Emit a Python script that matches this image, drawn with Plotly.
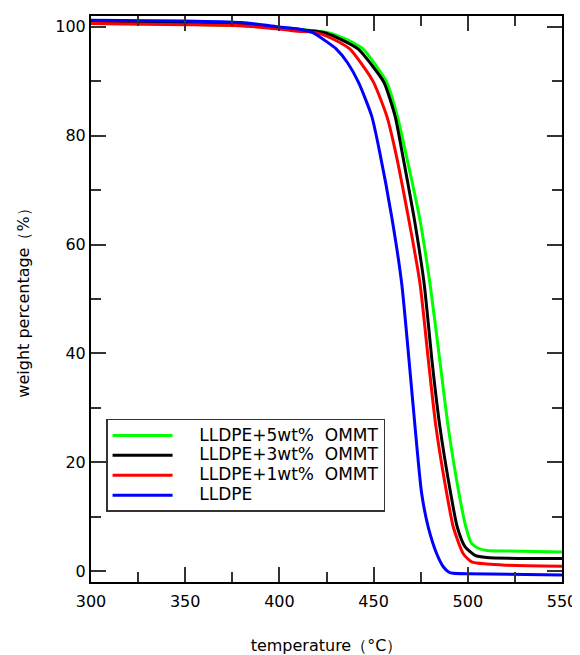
import plotly.graph_objects as go

# LLDPE + 5wt% OMMT (green)
t_5 = [300, 350, 400, 410, 425, 435, 444.5, 451, 457, 462.6, 466.7, 474.3, 479.9, 485.4, 489.6, 495.3, 499, 502, 505.6, 510, 520, 550]
w_5 = [100.6, 100.5, 99.9, 99.6, 99.0, 97.8, 95.9, 93.0, 89.8, 83.6, 77.4, 65.1, 52.9, 38.0, 26.5, 14.3, 8.1, 5.1, 4.2, 3.8, 3.7, 3.5]

# LLDPE + 3wt% OMMT (black)
t_3 = [300, 350, 380, 400, 410, 423, 432, 441.9, 449, 455.5, 461.4, 464.9, 471.4, 476.8, 481.2, 485.2, 490.9, 494.4, 498.5, 503.8, 510, 550]
w_3 = [100.8, 100.6, 100.3, 99.8, 99.5, 99.0, 97.8, 95.9, 93.0, 89.8, 83.6, 77.4, 65.1, 52.9, 38.0, 26.5, 14.3, 8.1, 4.5, 2.9, 2.5, 2.3]

# LLDPE + 1wt% OMMT (red)
t_1 = [300, 350, 380, 400, 410, 420, 430, 437.5, 444, 450, 457, 461.4, 468.4, 474.6, 479.3, 483.1, 488.8, 492.3, 497.6, 502, 510, 520, 550]
w_1 = [100.6, 100.4, 100.2, 99.6, 99.2, 98.9, 97.5, 95.9, 93.0, 89.8, 83.6, 77.4, 65.1, 52.9, 38.0, 26.5, 14.3, 8.1, 3.2, 1.7, 1.3, 1.1, 0.9]

# LLDPE (blue)
t_0 = [300, 350, 380, 400, 410, 418, 425, 430, 436, 442, 449, 453, 459.6, 464.9, 469, 472, 475.5, 479, 483.5, 487, 490, 492.3, 500, 550]
w_0 = [101.2, 101.1, 100.8, 100.0, 99.6, 98.9, 97.3, 96.0, 93.5, 89.8, 83.6, 77.4, 65.1, 52.9, 38.0, 26.5, 14.3, 8.1, 3.2, 0.8, -0.2, -0.4, -0.5, -0.7]

names = ["LLDPE+5wt%  OMMT", "LLDPE+3wt%  OMMT", "LLDPE+1wt%  OMMT", "LLDPE"]
colors = ["#00ff00", "#000000", "#ff0000", "#0000ff"]
series_t = [t_5, t_3, t_1, t_0]
series_w = [w_5, w_3, w_1, w_0]

x_tick_vals = [300, 350, 400, 450, 500, 550]
y_tick_vals = [0, 20, 40, 60, 80, 100]

FONT = "DejaVu Sans"

fig = go.Figure()
for t, w, n, c in zip(series_t, series_w, names, colors):
    label = '<span style="font-size:17px">' + "\u00a0" * 4 + n + "</span>"
    fig.add_trace(go.Scatter(x=t, y=w, mode="lines", name=label,
                             line=dict(color=c, width=3, shape="spline", smoothing=0.6)))

axis_common = dict(
    showline=True, linecolor="#000000", linewidth=2, mirror="allticks",
    ticks="inside", ticklen=15, tickwidth=2, tickcolor="#333333",
    showgrid=False, zeroline=False, automargin=False,
    ticklabeloverflow="allow",
    tickfont=dict(family=FONT, size=16, color="#000000"),
)

fig.update_xaxes(range=[300, 550], tickvals=x_tick_vals, ticklabelstandoff=4,
                 minor=dict(dtick=25, ticks="inside", ticklen=10, tickwidth=2, tickcolor="#333333"),
                 title=dict(text="temperature（°C）", font=dict(family=FONT, size=16, color="#000000"), standoff=36),
                 **axis_common)
fig.update_yaxes(range=[-2, 102], tickvals=y_tick_vals,
                 minor=dict(dtick=10, ticks="inside", ticklen=10, tickwidth=2, tickcolor="#333333"),
                 title=dict(text="weight percentage（%）", font=dict(family=FONT, size=16, color="#000000"), standoff=22),
                 **axis_common)

fig.update_layout(
    width=572, height=647,
    margin=dict(l=83, r=18, t=8, b=73),
    plot_bgcolor="#ffffff", paper_bgcolor="#ffffff",
    showlegend=True,
    legend=dict(x=0.032, y=0.288, xanchor="left", yanchor="top",
                bordercolor="#333333", borderwidth=1.5, bgcolor="#ffffff",
                font=dict(family=FONT, size=13, color="#000000"),
                itemwidth=60, tracegroupgap=0),
)

fig.write_html("out.html")
